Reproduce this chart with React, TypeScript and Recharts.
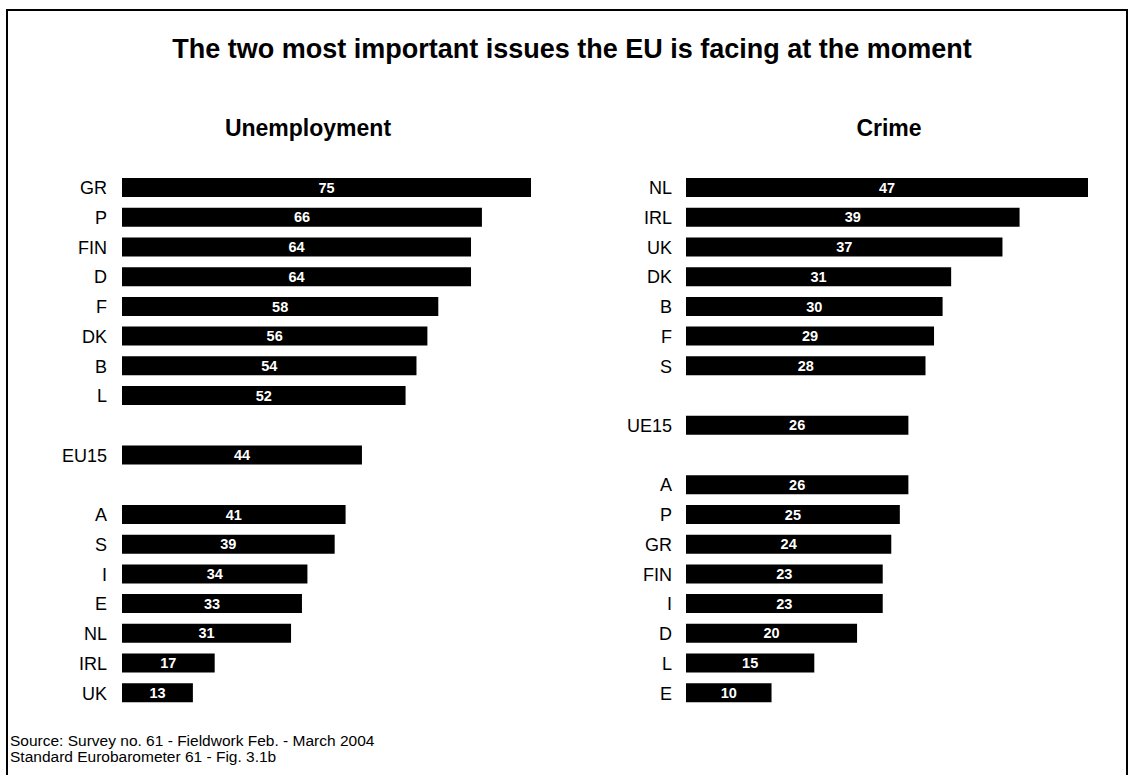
import { BarChart, Bar, XAxis, YAxis, LabelList } from 'recharts';

// '' rows are the blank spacer rows between groups
const unemploymentCountries = ['GR', 'P', 'FIN', 'D', 'F', 'DK', 'B', 'L', '', 'EU15', '', 'A', 'S', 'I', 'E', 'NL', 'IRL', 'UK'];
const unemploymentValues = [75, 66, 64, 64, 58, 56, 54, 52, null, 44, null, 41, 39, 34, 33, 31, 17, 13];

const crimeCountries = ['NL', 'IRL', 'UK', 'DK', 'B', 'F', 'S', '', 'UE15', '', 'A', 'P', 'GR', 'FIN', 'I', 'D', 'L', 'E'];
const crimeValues = [47, 39, 37, 31, 30, 29, 28, null, 26, null, 26, 25, 24, 23, 23, 20, 15, 10];

const title = 'The two most important issues the EU is facing at the moment';
const panelTitles = ['Unemployment', 'Crime'];
const sourceLines = ['Source: Survey no. 61 - Fieldwork Feb. - March 2004', 'Standard Eurobarometer 61 - Fig. 3.1b'];

const FONT = '"Liberation Sans", Arial, Helvetica, sans-serif';

function toRows(names: string[], values: (number | null)[]) {
  return names.map((name, i) => ({ name, value: values[i] }));
}

interface PanelProps {
  rows: { name: string; value: number | null }[];
  max: number;
  left: number;
  width: number;
  axisWidth: number;
  gap: number;
}

function Panel({ rows, max, left, width, axisWidth, gap }: PanelProps) {
  return (
    <div style={{ position: 'absolute', left, top: 160 }}>
      <BarChart
        width={width}
        height={548}
        data={rows}
        layout="vertical"
        margin={{ top: 13, right: 10, bottom: 0, left: 0 }}
        barCategoryGap={0}
      >
        <XAxis type="number" domain={[0, max]} hide />
        <YAxis
          type="category"
          dataKey="name"
          width={axisWidth}
          axisLine={false}
          tickLine={false}
          tickSize={0}
          tickMargin={gap}
          interval={0}
          tick={{ fill: '#000', fontSize: 18, fontFamily: FONT }}
        />
        <Bar dataKey="value" fill="#000" barSize={19} isAnimationActive={false}>
          <LabelList
            dataKey="value"
            position="center"
            formatter={(v: any) => (v == null ? '' : v)}
            style={{ fill: '#fff', fontSize: 14.5, fontWeight: 'bold', fontFamily: FONT }}
          />
        </Bar>
      </BarChart>
    </div>
  );
}

export default function App() {
  return (
    <div
      style={{
        position: 'absolute',
        left: 0,
        top: 0,
        width: 1133,
        height: 775,
        overflow: 'hidden',
        background: '#fff',
        fontFamily: FONT,
      }}
    >
      <div
        style={{
          position: 'absolute',
          left: 6,
          top: 9,
          width: 1122,
          height: 800,
          border: '2px solid #000',
          boxSizing: 'border-box',
        }}
      />
      <svg width={1133} height={775} style={{ position: 'absolute', left: 0, top: 0 }}>
        <text x={572} y={58} textAnchor="middle" fontSize={27} fontWeight="bold" fontFamily={FONT} fill="#000">
          {title}
        </text>
        <text x={308} y={136} textAnchor="middle" fontSize={23} fontWeight="bold" fontFamily={FONT} fill="#000">
          {panelTitles[0]}
        </text>
        <text x={889} y={136} textAnchor="middle" fontSize={23} fontWeight="bold" fontFamily={FONT} fill="#000">
          {panelTitles[1]}
        </text>
        {sourceLines.map((line, i) => (
          <text key={line} x={10} y={746 + i * 16} fontSize={15.5} fontFamily={FONT} fill="#000">
            {line}
          </text>
        ))}
      </svg>
      <Panel rows={toRows(unemploymentCountries, unemploymentValues)} max={75} left={0} width={541} axisWidth={122} gap={15} />
      <Panel rows={toRows(crimeCountries, crimeValues)} max={47} left={560} width={538} axisWidth={126} gap={14} />
    </div>
  );
}
